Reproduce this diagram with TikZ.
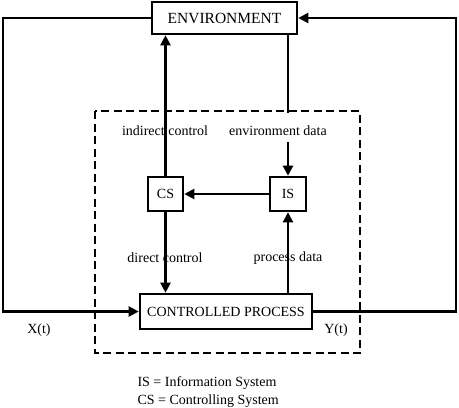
\documentclass[tikz,border=0pt]{standalone}
\usepackage{fontspec}
\setmainfont{Liberation Serif}
\usetikzlibrary{arrows.meta}

\begin{document}
\begin{tikzpicture}[x=1pt, y=-1pt,
		font=\fontsize{14}{16}\selectfont,
		blk/.style={draw, line width=2.6pt, inner sep=0pt},
		link/.style={line width=2.2pt},
		tip/.style={-{Triangle[length=10pt,width=10pt]}}]
				\useasboundingbox (0,0) rectangle (459,408);
				\node [blk, minimum width=145, minimum height=32, font=\fontsize{15.5}{17}\selectfont] (env) at (224.5,18) {ENVIRONMENT};
				\node [blk, minimum width=35, minimum height=34] (cs) at (165.5,194) {CS};
				\node [blk, minimum width=36, minimum height=34] (is) at (288,194) {IS};
				\node [blk, minimum width=172, minimum height=35] (proc) at (226,311.5) {CONTROLLED PROCESS};
				\coordinate (lt) at (3,18);
				\coordinate (lb) at (3,311.5);
				\coordinate (rt) at (456,18);
				\coordinate (rb) at (456,311.5);
				\coordinate (gap_a) at (288,113);
				\coordinate (gap_b) at (288,142);
				\draw [line width=2.5pt, dash pattern=on 8pt off 4.5pt] (95,111) rectangle (360,353);
				\draw [link, tip] (env.west) -- (lt) -- (lb) -- (proc.west);
				\draw [link, tip] (proc.east) -- (rb) -- (rt) -- (env.east);
				\draw [link, tip] (cs.north) -- (cs.north |- env.south);
				\draw [link] (gap_a |- env.south) -- (gap_a);
				\draw [link, tip] (gap_b) -- (is.north);
				\draw [link, tip] (is.west) -- (cs.east);
				\draw [link, tip] (cs.south) -- (cs.south |- proc.north);
				\draw [link, tip] (is.south |- proc.north) -- (is.south);
				\node (ic) at (165,131) {indirect control};
				\node (ed) at (278,131) {environment data};
				\node (dc) at (165,258) {direct control};
				\node (pd) at (288,258) {process data};
				\node (xt) at (39,330) {X(t)};
				\node (yt) at (336,330) {Y(t)};
				\node [anchor=west] (key_is) at (134,383) {IS = Information System};
				\node [anchor=west] (key_cs) at (134,401) {CS = Controlling System};
			\end{tikzpicture}
\end{document}
